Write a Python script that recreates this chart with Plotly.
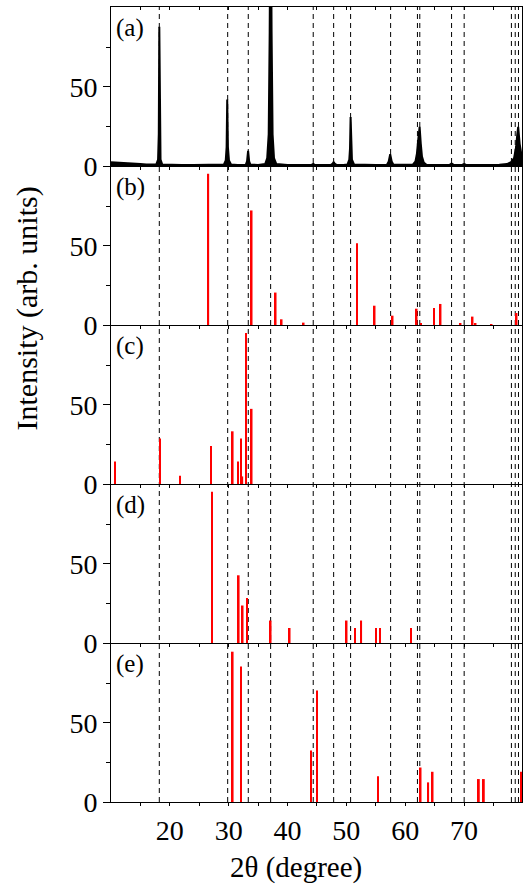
import plotly.graph_objects as go
from plotly.subplots import make_subplots

# ---------------- data ----------------
x_range = [10, 79.85]
x_major = [20, 30, 40, 50, 60, 70]
x_minor = [15, 25, 35, 45, 55, 65, 75]
y_major = [0, 50]
y_minor = [25, 75]

panel_labels = ["(a)", "(b)", "(c)", "(d)", "(e)"]

# reference (dashed) line positions, degrees 2-theta
ref_lines = [18.21, 29.83, 33.33, 37.13, 44.37, 47.84, 50.72, 57.52,
             62.08, 62.48, 67.88, 70.02, 78.05, 78.7, 79.25]

a_x = [10.0, 11, 12, 13, 14, 15, 16, 17, 17.7, 18.0, 18.12, 18.21, 18.3, 18.42, 18.7,
       20, 22, 24, 26, 28, 29.2, 29.5, 29.65, 29.75, 29.87, 30.05, 30.4, 31.5,
       32.9, 33.12, 33.3, 33.48, 33.7, 35, 36.2, 36.55, 36.8, 36.97, 37.13, 37.29,
       37.46, 37.7, 38.1, 40, 42, 44.0, 44.37, 44.7, 46, 47.4, 47.7, 47.84, 48.0,
       48.3, 49.5, 50.2, 50.5, 50.62, 50.72, 50.82, 50.95, 51.3, 53, 55, 56.9,
       57.2, 57.45, 57.7, 58.0, 60, 61.3, 61.75, 62.0, 62.2, 62.45, 62.65, 62.85,
       63.15, 63.6, 65, 67.5, 67.88, 68.3, 69.6, 70.02, 70.4, 72, 74, 76, 77.3,
       78.0, 78.5, 78.85, 79.05, 79.2, 79.45, 79.85]
a_y = [2.3, 2.0, 1.8, 1.6, 1.4, 1.2, 1.0, 0.9, 1.0, 4, 20, 88, 20, 4, 1.0,
       0.7, 0.6, 0.6, 0.6, 0.7, 1.0, 3.5, 12, 42, 12, 3.5, 1.0, 0.7,
       0.8, 3, 9.5, 3, 0.8, 0.7, 1.2, 5, 20, 85, 200, 85,
       20, 5, 1.2, 0.6, 0.6, 0.6, 1.3, 0.6, 0.6, 0.7, 1.6, 2.6, 1.6,
       0.7, 0.7, 1.0, 4, 11, 31, 11, 4, 1.0, 0.6, 0.6, 0.8,
       2.8, 7.4, 2.8, 0.8, 0.6, 0.9, 3, 8, 16, 24.7, 14, 6,
       2.2, 0.8, 0.6, 0.6, 1.6, 0.6, 0.6, 1.3, 0.6, 0.6, 0.6, 0.8, 1.2,
       2.5, 5, 12, 20, 24.7, 14, 5]

# panel (b) reference sticks
b_pos = [26.53, 33.90, 37.98, 39.00, 42.74, 51.79, 54.80, 57.86, 61.94, 62.67,
         64.88, 66.01, 69.41, 71.45, 71.96, 74.68, 78.93]
b_int = [95.6, 72.4, 20.5, 3.6, 1.5, 51.7, 12.2, 5.9, 10.3, 1.0,
         10.8, 13.3, 0.8, 5.3, 0.8, 0.6, 7.6]

# panel (c) reference sticks
c_pos = [10.68, 18.32, 21.72, 26.99, 30.68, 31.58, 32.09, 32.31, 32.94, 33.90]
c_int = [14.2, 28.8, 5.2, 24.0, 33.3, 14.2, 28.8, 4.8, 95.4, 47.5]

# panel (d) reference sticks
d_pos = [27.16, 31.70, 32.37, 33.11, 37.13, 40.36, 50.04, 51.45, 52.52, 55.02,
         55.70, 60.97]
d_int = [95.6, 42.8, 23.7, 28.4, 14.2, 9.5, 14.2, 9.5, 14.2, 9.5, 9.5, 9.5]

# panel (e) reference sticks
e_pos = [30.68, 32.09, 43.98, 45.00, 55.36, 62.62, 63.91, 64.66, 72.52, 73.37, 79.66]
e_int = [95.0, 85.7, 32.6, 70.4, 16.2, 21.8, 12.4, 19.1, 14.5, 14.5, 19.1]

sticks = [(b_pos, b_int), (c_pos, c_int), (d_pos, d_int), (e_pos, e_int)]

# ---------------- figure ----------------
FONT = "'Liberation Serif', 'Times New Roman', Times, serif"
fig = make_subplots(rows=5, cols=1, shared_xaxes=True, vertical_spacing=0)

fig.add_trace(go.Scatter(x=a_x, y=a_y, mode="lines", fill="tozeroy",
                         fillcolor="black", line=dict(color="black", width=2),
                         showlegend=False, hoverinfo="skip"), row=1, col=1)

for i, (pos, inten) in enumerate(sticks):
    fig.add_trace(go.Bar(x=pos, y=inten, width=0.3, marker=dict(color="#ff0000", line=dict(width=0)),
                         showlegend=False), row=i + 2, col=1)

for r in range(1, 6):
    fig.update_xaxes(range=x_range, showline=True, linecolor="black", linewidth=1,
                     ticks="outside", ticklen=3, tickwidth=1, tickcolor="black",
                     tickvals=x_major, ticktext=[str(v) for v in x_major],
                     minor=dict(tickvals=x_minor, ticks="outside", ticklen=3, tickcolor="black"),
                     showgrid=False, zeroline=False, mirror=(r == 1),
                     tickfont=dict(family=FONT, size=28, color="black"),
                     row=r, col=1)
    fig.update_yaxes(range=[0, 100.5], showline=True, linecolor="black", linewidth=1,
                     ticks="outside", ticklen=7, tickwidth=1, tickcolor="black",
                     tickvals=y_major, ticktext=[str(v) for v in y_major],
                     minor=dict(tickvals=y_minor, ticks="outside", ticklen=4, tickcolor="black"),
                     showgrid=False, zeroline=False, mirror=True,
                     tickfont=dict(family=FONT, size=28, color="black"),
                     row=r, col=1)

# inward ticks along the top frame of panel (a)
fig.update_layout(xaxis6=dict(overlaying="x", side="top", anchor="y", range=x_range,
                              showline=False, showgrid=False, zeroline=False,
                              ticks="inside", ticklen=3, tickcolor="black",
                              tickvals=x_major, showticklabels=False,
                              minor=dict(tickvals=x_minor, ticks="inside", ticklen=3,
                                         tickcolor="black")))
fig.add_trace(go.Scatter(x=[x_range[0]], y=[None], xaxis="x6", yaxis="y",
                         mode="markers", showlegend=False, hoverinfo="skip"))

for xv in ref_lines:
    fig.add_shape(type="line", xref="x", yref="paper", x0=xv, x1=xv, y0=0, y1=1,
                  line=dict(color="black", width=1, dash="5px,4px"), layer="below")

for i, lab in enumerate(panel_labels):
    yref = "y domain" if i == 0 else f"y{i + 1} domain"
    fig.add_annotation(text=lab, xref="x domain", yref=yref, x=0.008, y=1 - 21 / 159,
                       xanchor="left", yanchor="middle", showarrow=False,
                       font=dict(family=FONT, size=25, color="black"))

fig.add_annotation(text="Intensity (arb. units)", xref="paper", yref="paper",
                   x=-0.204, y=0.621, xanchor="center", yanchor="middle", textangle=-90,
                   showarrow=False, font=dict(family=FONT, size=30, color="black"))
fig.add_annotation(text="2θ (degree)", xref="paper", yref="paper",
                   x=0.451, y=-0.083, xanchor="center", yanchor="middle",
                   showarrow=False, font=dict(family=FONT, size=29, color="black"))

fig.update_layout(width=523, height=885, margin=dict(l=111, r=1, t=7, b=83),
                  paper_bgcolor="white", plot_bgcolor="rgba(0,0,0,0)",
                  font=dict(family=FONT, color="black"),
                  barmode="overlay", showlegend=False)

fig.write_html("out.html")
